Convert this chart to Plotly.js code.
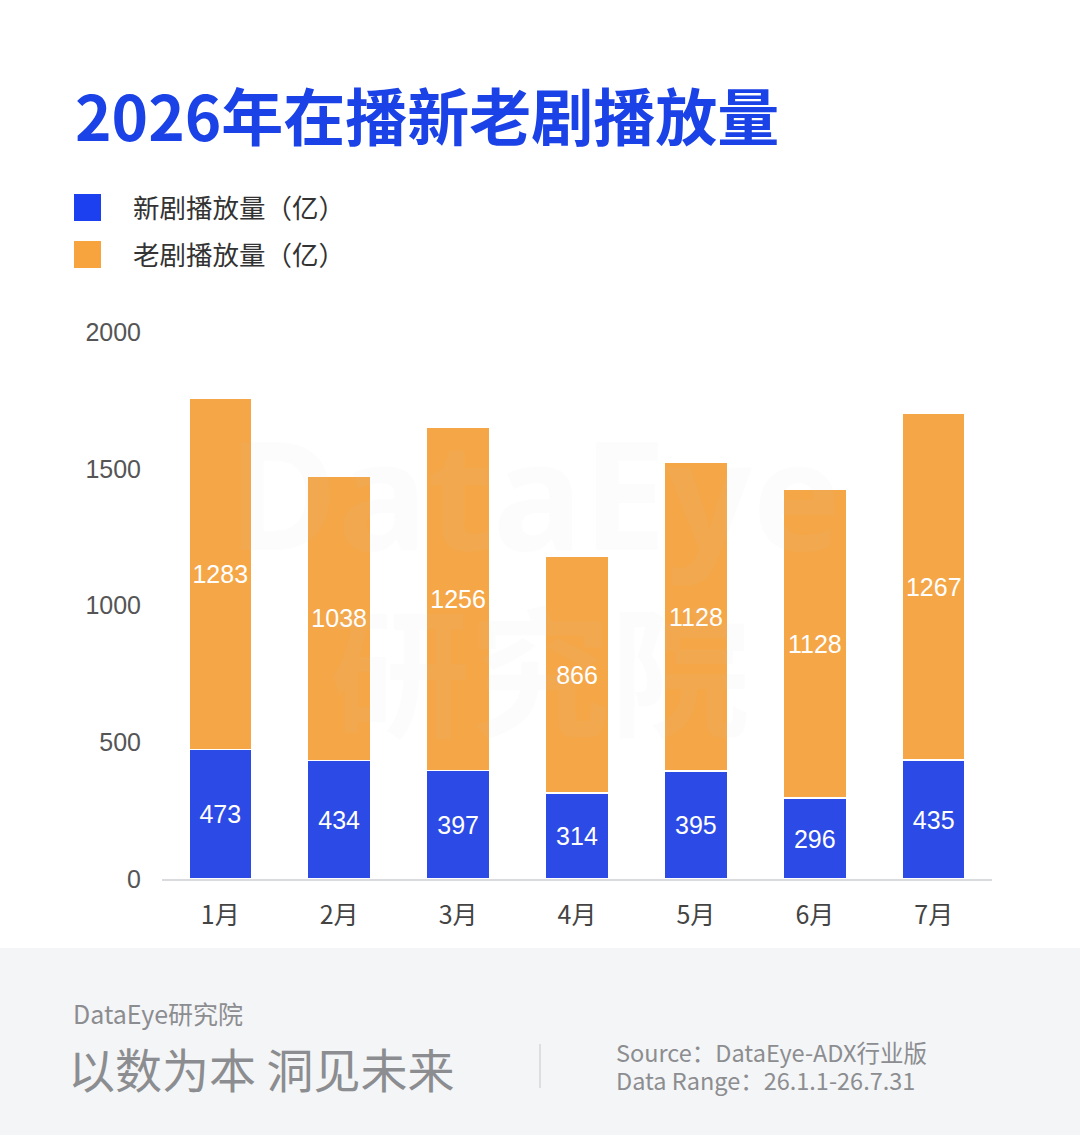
<!DOCTYPE html>
<html>
<head>
<meta charset="utf-8">
<script src="https://cdn.plot.ly/plotly-3.0.1.min.js"></script>
<style>
html,body{margin:0;padding:0;background:#fff;}
#chart{width:1080px;height:1135px;}
</style>
</head>
<body>
<div id="chart"></div>
<script>
// ---- data ----
const months = ['1月','2月','3月','4月','5月','6月','7月'];
const newDrama = [473, 434, 397, 314, 395, 296, 435];
const oldDrama = [1283, 1038, 1256, 866, 1128, 1128, 1267];
const seriesNames = ['新剧播放量（亿）', '老剧播放量（亿）'];
const yTicks = [0, 500, 1000, 1500, 2000];
const titleText = '2026年在播新老剧播放量';

// ---- styles ----
const W = 1080, H = 1135;
const L = 162, R = 992, T = 332, B = 879;
const blue = '#2C4BE6', orange = '#F5A748';
const cjk = '"Noto Sans CJK SC", "Noto Sans", sans-serif';
const num = '"Liberation Sans", Arial, sans-serif';
const px = x => (x - L) / (R - L);
const py = y => (B - y) / (B - T);

const traces = [
  {type:'bar', x:months, y:newDrama, name:seriesNames[0],
   marker:{color:blue, line:{color:'#ffffff', width:1.5}},
   text:newDrama.map(String), textposition:'inside', insidetextanchor:'middle',
   textfont:{color:'#ffffff', size:25, family:num}, hoverinfo:'skip'},
  {type:'bar', x:months, y:oldDrama, name:seriesNames[1],
   marker:{color:orange, line:{color:'#ffffff', width:1.5}},
   text:oldDrama.map(String), textposition:'inside', insidetextanchor:'middle',
   textfont:{color:'#ffffff', size:25, family:num}, hoverinfo:'skip'}
];

const shapes = [
  // footer background
  {type:'rect', xref:'paper', yref:'paper', x0:px(0), x1:px(W), y0:py(948), y1:py(H),
   fillcolor:'#F4F5F7', line:{width:0}, layer:'below'},
  // footer divider
  {type:'line', xref:'paper', yref:'paper', x0:px(540), x1:px(540), y0:py(1044), y1:py(1088),
   line:{color:'#D4D6DA', width:1.5}},
  // legend squares
  {type:'rect', xref:'paper', yref:'paper', x0:px(74), x1:px(101), y0:py(194), y1:py(221),
   fillcolor:'#1C40F0', line:{width:0}},
  {type:'rect', xref:'paper', yref:'paper', x0:px(74), x1:px(101), y0:py(241), y1:py(268),
   fillcolor:'#F7A43F', line:{width:0}}
];

const annotations = [
  // watermark
  {xref:'paper', yref:'paper', x:px(535), y:py(492), text:'<b>DataEye</b>', showarrow:false,
   font:{family:'"Noto Sans", sans-serif', size:150, color:'rgba(190,190,190,0.05)'}, xanchor:'center', yanchor:'middle'},
  {xref:'paper', yref:'paper', x:px(540), y:py(665), text:'<b>研究院</b>', showarrow:false,
   font:{family:cjk, size:140, color:'rgba(190,190,190,0.05)'}, xanchor:'center', yanchor:'middle'},
  // title
  {xref:'paper', yref:'paper', x:px(73), y:py(114), text:'<b>'+titleText+'</b>', showarrow:false,
   font:{family:cjk, size:62, color:'#1B42E6'}, xanchor:'left', yanchor:'middle'},
  // legend texts
  {xref:'paper', yref:'paper', x:px(131), y:py(207), text:seriesNames[0], showarrow:false,
   font:{family:cjk, size:26.5, color:'#333333'}, xanchor:'left', yanchor:'middle'},
  {xref:'paper', yref:'paper', x:px(131), y:py(254), text:seriesNames[1], showarrow:false,
   font:{family:cjk, size:26.5, color:'#333333'}, xanchor:'left', yanchor:'middle'},
  // footer texts
  {xref:'paper', yref:'paper', x:px(71), y:py(1013), text:'DataEye研究院', showarrow:false,
   font:{family:cjk, size:25, color:'#8C8D90'}, xanchor:'left', yanchor:'middle'},
  {xref:'paper', yref:'paper', x:px(66), y:py(1067), text:'以数为本 洞见未来', showarrow:false,
   font:{family:cjk, size:47, color:'#8C8D90'}, xanchor:'left', yanchor:'middle'},
  {xref:'paper', yref:'paper', x:px(614), y:py(1052), text:'Source：DataEye-ADX行业版', showarrow:false,
   font:{family:cjk, size:23.5, color:'#8C8D90'}, xanchor:'left', yanchor:'middle'},
  {xref:'paper', yref:'paper', x:px(614), y:py(1080), text:'Data Range：26.1.1-26.7.31', showarrow:false,
   font:{family:cjk, size:23.5, color:'#8C8D90'}, xanchor:'left', yanchor:'middle'}
];

const layout = {
  width:W, height:H,
  margin:{l:L, r:W-R, t:T, b:H-B, pad:0},
  paper_bgcolor:'#ffffff', plot_bgcolor:'rgba(0,0,0,0)',
  barmode:'stack', bargap:0.47,
  showlegend:false,
  xaxis:{type:'category', range:[-0.49, 6.49], showgrid:false, zeroline:false,
         showline:true, linecolor:'#D9DBDF', linewidth:1.5,
         ticks:'', ticklabelstandoff:13,
         tickfont:{family:cjk, size:25, color:'#444444'}, fixedrange:true},
  yaxis:{range:[0, 2000], tickvals:yTicks, ticktext:yTicks.map(String),
         showgrid:false, zeroline:false, showline:false, ticks:'',
         ticklabelstandoff:20,
         tickfont:{family:num, size:25, color:'#555555'}, fixedrange:true},
  shapes:shapes,
  annotations:annotations
};

Plotly.newPlot('chart', traces, layout, {staticPlot:true, displayModeBar:false});
</script>
</body>
</html>
